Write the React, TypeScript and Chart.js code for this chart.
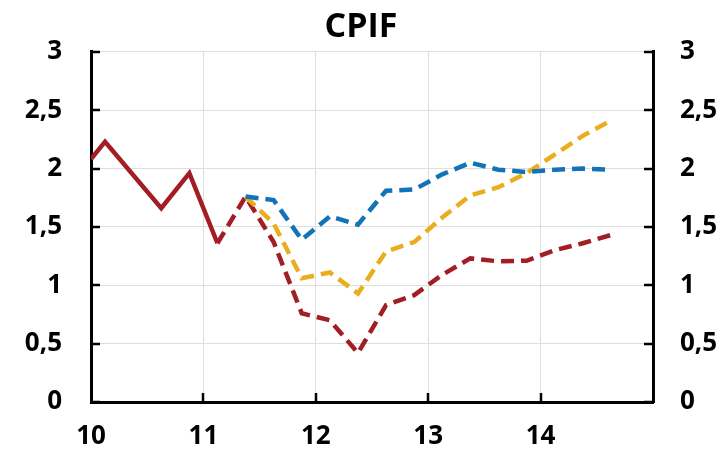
import React, { useEffect, useRef } from "react";
import { Chart, registerables } from "chart.js";

Chart.register(...registerables);

const titleText = "CPIF";

const histX = [10.0, 10.125, 10.625, 10.875, 11.125];
const histY = [2.08, 2.23, 1.66, 1.96, 1.36];

const fcX = [11.375, 11.625, 11.875, 12.125, 12.375, 12.625, 12.875, 13.125, 13.375, 13.625, 13.875, 14.125, 14.375, 14.625];
const blueY = [1.76, 1.73, 1.39, 1.59, 1.52, 1.81, 1.82, 1.95, 2.05, 1.99, 1.97, 1.99, 2.0, 1.99];
const yellowY = [1.76, 1.53, 1.06, 1.11, 0.93, 1.29, 1.37, 1.58, 1.77, 1.84, 1.96, 2.12, 2.28, 2.41];
const redDashX = [11.125, ...fcX];
const redDashY = [1.36, 1.76, 1.37, 0.76, 0.7, 0.42, 0.83, 0.915, 1.09, 1.23, 1.205, 1.21, 1.3, 1.36, 1.43];

const xTicks = [10, 11, 12, 13, 14];
const yTickLabels = ["0", "0,5", "1", "1,5", "2", "2,5", "3"];

const RED = "#a31d24";
const BLUE = "#1273b9";
const YELLOW = "#e9ae1d";
const FONT = "'Open Sans', 'DejaVu Sans', sans-serif";

const pts = (xs: number[], ys: number[]) => xs.map((x, i) => ({ x, y: ys[i] }));

const innerTicks = {
  id: "innerTicks",
  afterDraw(chart: any) {
    const { ctx, chartArea, scales } = chart;
    ctx.save();
    ctx.strokeStyle = "#000";
    ctx.lineWidth = 2.5;
    const xs = scales.x;
    for (let v = 11; v <= 14; v++) {
      const px = Math.round(xs.getPixelForValue(v));
      ctx.beginPath();
      ctx.moveTo(px, chartArea.bottom);
      ctx.lineTo(px, chartArea.bottom - 9);
      ctx.stroke();
    }
    const ys = scales.y;
    for (let i = 0; i < yTickLabels.length; i++) {
      const py = Math.round(ys.getPixelForValue(i * 0.5));
      ctx.beginPath();
      ctx.moveTo(chartArea.left, py);
      ctx.lineTo(chartArea.left + 9, py);
      ctx.moveTo(chartArea.right, py);
      ctx.lineTo(chartArea.right - 9, py);
      ctx.stroke();
    }
    ctx.restore();
  },
};

export default function App() {
  const ref = useRef<HTMLCanvasElement | null>(null);
  useEffect(() => {
    if (!ref.current) return;
    const tickFont = { family: FONT, size: 26, weight: "bold" as const };
    const chart = new Chart(ref.current, {
      type: "line",
      data: {
        datasets: [
          {
            data: pts(fcX, blueY),
            borderColor: BLUE,
            borderWidth: 4.5,
            borderDash: [13, 7],
            pointRadius: 0,
            fill: false,
          },
          {
            data: pts(fcX, yellowY),
            borderColor: YELLOW,
            borderWidth: 4.5,
            borderDash: [13, 7],
            pointRadius: 0,
            fill: false,
          },
          {
            data: pts(redDashX, redDashY),
            borderColor: RED,
            borderWidth: 4.5,
            borderDash: [13, 7],
            pointRadius: 0,
            fill: false,
          },
          {
            data: pts(histX, histY),
            borderColor: RED,
            borderWidth: 4.5,
            pointRadius: 0,
            fill: false,
          },
        ],
      },
      options: {
        animation: false,
        responsive: false,
        maintainAspectRatio: false,
        layout: { padding: 0 },
        plugins: {
          legend: { display: false },
          tooltip: { enabled: false },
          title: {
            display: true,
            text: titleText,
            color: "#000",
            font: { family: FONT, size: 34, weight: "bold", lineHeight: 1.2 },
            padding: { top: 7, bottom: 4 },
          },
        },
        scales: {
          x: {
            type: "linear",
            min: 10,
            max: 15,
            afterBuildTicks: (s: any) => {
              s.ticks = [...xTicks, 15].map((v) => ({ value: v }));
            },
            afterFit: (s: any) => {
              s.height = 51;
            },
            ticks: {
              color: "#000",
              font: tickFont,
              padding: 19,
              maxRotation: 0,
              autoSkip: false,
              callback: (v: any) => (xTicks.includes(v) ? String(v) : ""),
            },
            grid: { color: "#dedede", lineWidth: 1, drawTicks: false },
            border: { display: true, color: "#000", width: 3 },
          },
          y: {
            type: "linear",
            position: "left",
            min: 0,
            max: 3,
            afterBuildTicks: (s: any) => {
              s.ticks = yTickLabels.map((_, i) => ({ value: i * 0.5 }));
            },
            afterFit: (s: any) => {
              s.width = 91;
            },
            ticks: {
              color: "#000",
              font: tickFont,
              padding: 29,
              autoSkip: false,
              callback: (v: any) => yTickLabels[Math.round(v * 2)],
            },
            grid: { color: "#dedede", lineWidth: 1, drawTicks: false },
            border: { display: true, color: "#000", width: 3 },
          },
          y2: {
            type: "linear",
            position: "right",
            min: 0,
            max: 3,
            afterBuildTicks: (s: any) => {
              s.ticks = yTickLabels.map((_, i) => ({ value: i * 0.5 }));
            },
            afterFit: (s: any) => {
              s.width = 69;
            },
            ticks: {
              color: "#000",
              font: tickFont,
              padding: 27,
              autoSkip: false,
              callback: (v: any) => yTickLabels[Math.round(v * 2)],
            },
            grid: { display: false, drawOnChartArea: false, drawTicks: false },
            border: { display: true, color: "#000", width: 3 },
          },
        },
      },
      plugins: [innerTicks],
    });
    return () => chart.destroy();
  }, []);
  return (
    <div style={{ position: "absolute", left: 0, top: 0, width: 722, height: 453, background: "#fff" }}>
      <canvas ref={ref} width={722} height={453} style={{ display: "block" }} />
    </div>
  );
}
